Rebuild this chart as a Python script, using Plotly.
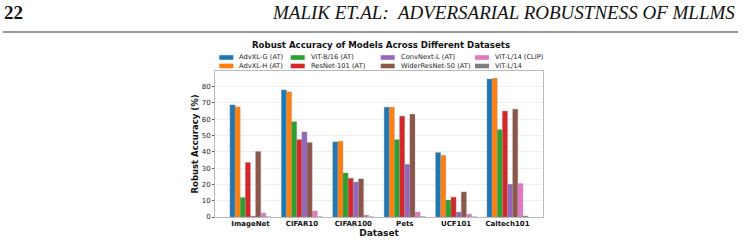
import plotly.graph_objects as go

datasets = ["ImageNet", "CIFAR10", "CIFAR100", "Pets", "UCF101", "Caltech101"]
models = ["AdvXL-G (AT)", "AdvXL-H (AT)", "ViT-B/16 (AT)", "ResNet-101 (AT)",
          "ConvNext-L (AT)", "WiderResNet-50 (AT)", "ViT-L/14 (CLIP)", "ViT-L/14"]
advxl_g = [68.8, 78.0, 46.1, 67.4, 39.6, 84.7]
advxl_h = [67.6, 76.8, 46.5, 67.4, 37.8, 85.1]
vit_b16 = [12.0, 58.5, 27.0, 47.5, 10.4, 53.6]
resnet101 = [33.5, 47.5, 23.8, 61.9, 12.2, 65.0]
convnext_l = [0.6, 52.2, 21.5, 32.3, 3.0, 20.1]
widerresnet50 = [40.2, 45.7, 23.4, 63.1, 15.4, 66.2]
vit_l14_clip = [2.4, 3.7, 1.2, 3.0, 1.8, 20.5]
vit_l14 = [0.1, 0.1, 0.1, 0.2, 0.1, 0.6]
series = [advxl_g, advxl_h, vit_b16, resnet101, convnext_l, widerresnet50, vit_l14_clip, vit_l14]
colors = ["#1f77b4", "#ff7f0e", "#2ca02c", "#d62728", "#9467bd", "#8c564b", "#e377c2", "#7f7f7f"]

W, H = 744, 241
L, R, T, B = 215, 543, 71, 217
FONT = "DejaVu Sans"

fig = go.Figure()
for name, vals, c in zip(models, series, colors):
    fig.add_trace(go.Bar(x=datasets, y=vals, name=name, marker_color=c,
                         marker_line=dict(width=0.6, color="rgba(150,150,150,0.6)"),
                         showlegend=False))

def px2paper_x(px):
    return (px - L) / (R - L)

def px2paper_y(py):
    return (B - py) / (B - T)

# manual legend (2 rows x 4 columns, column-major)
col_x = [219.3, 290.7, 380.7, 475.0]
row_y = [57.5, 66.0]
shapes = []
annotations = []
for i, (name, c) in enumerate(zip(models, colors)):
    col, row = i // 2, i % 2
    x0 = col_x[col]
    yc = row_y[row]
    shapes.append(dict(type="rect", xref="paper", yref="paper",
                       x0=px2paper_x(x0), x1=px2paper_x(x0 + 14),
                       y0=px2paper_y(yc + 2.3), y1=px2paper_y(yc - 2.3),
                       fillcolor=c, line=dict(width=0)))
    annotations.append(dict(text=name, xref="paper", yref="paper",
                            x=px2paper_x(x0 + 18), y=px2paper_y(yc),
                            xanchor="left", yanchor="middle", showarrow=False,
                            font=dict(family=FONT, size=6.7, color="#222")))

# y-axis title
annotations.append(dict(text="<b>Robust Accuracy (%)</b>", xref="paper", yref="paper",
                        x=px2paper_x(194.5), y=0.5, xanchor="center", yanchor="middle",
                        textangle=-90, showarrow=False,
                        font=dict(family=FONT, size=8.5, color="#111")))

# page header
annotations.append(dict(text="<b>22</b>", xref="paper", yref="paper",
                        x=px2paper_x(2), y=px2paper_y(13), xanchor="left", yanchor="middle",
                        showarrow=False, font=dict(family="Liberation Serif", size=19, color="#111")))
annotations.append(dict(text="<i>MALIK ET.AL:  ADVERSARIAL ROBUSTNESS OF MLLMS</i>", xref="paper", yref="paper",
                        x=px2paper_x(737), y=px2paper_y(13), xanchor="right", yanchor="middle",
                        showarrow=False, font=dict(family="Liberation Serif", size=19, color="#111")))
shapes.append(dict(type="line", xref="paper", yref="paper",
                   x0=px2paper_x(3), x1=px2paper_x(738), y0=px2paper_y(32), y1=px2paper_y(32),
                   line=dict(color="#777", width=1.5)))

fig.update_layout(
    width=W, height=H,
    margin=dict(l=L, r=W - R, t=T, b=H - B, pad=0, autoexpand=False),
    paper_bgcolor="white", plot_bgcolor="white",
    barmode="group", bargap=0.2, bargroupgap=0,
    font=dict(family=FONT, size=7, color="#222"),
    title=dict(text="<b>Robust Accuracy of Models Across Different Datasets</b>",
               x=px2paper_x(381), xref="paper", xanchor="center",
               y=1 - 44.5 / H, yref="container", yanchor="middle",
               font=dict(family=FONT, size=8.6, color="#111")),
    shapes=shapes, annotations=annotations,
    xaxis=dict(range=[-0.69, 5.69], showgrid=False, automargin=False,
               showline=True, linecolor="#bbb", linewidth=1, mirror=True,
               ticks="", tickfont=dict(family=FONT, size=7, color="#111", weight="bold"),
               title=dict(text="<b>Dataset</b>", font=dict(family=FONT, size=9, color="#111"), standoff=1)),
    yaxis=dict(range=[0, 89.6], dtick=10, showgrid=True, gridcolor="#efefef", gridwidth=0.8,
               automargin=False,
               showline=True, linecolor="#bbb", linewidth=1, mirror=True, zeroline=False,
               ticks="outside", ticklen=2, tickcolor="#555",
               tickfont=dict(family=FONT, size=7, color="#222")),
)

fig.write_html("out.html")
